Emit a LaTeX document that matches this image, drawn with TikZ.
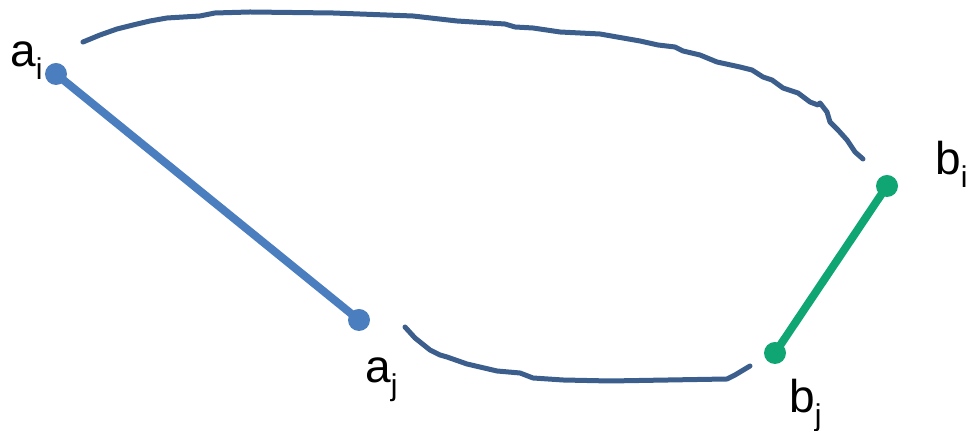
\documentclass[tikz,border=0pt]{standalone}
\usepackage{fontspec}
\setmainfont{Liberation Sans}
\usetikzlibrary{positioning}
\definecolor{segblue}{HTML}{4A7EBE}
\definecolor{seggreen}{HTML}{10A674}
\definecolor{curveblue}{HTML}{3B5E8C}
\newcommand{\sublab}[2]{#1\raisebox{-6.5pt}{\fontsize{15}{15}\selectfont #2}}

\begin{document}
\begin{tikzpicture}[
  x={(0.5pt,0)}, y={(0,-0.5pt)},
  dot/.style={circle, fill=#1, inner sep=0pt, minimum size=11pt},
  seg/.style={draw=#1, line width=4pt},
  hand/.style={draw=curveblue, line width=2.5pt, line cap=round, line join=round},
  lab/.style={anchor=base west, inner sep=0pt, font=\fontsize{23}{27}\selectfont},
]

% Canvas
\useasboundingbox (0,0) rectangle (971,431);

% End points
\node[dot=segblue] (ai) at (56,74) {};
\node[dot=segblue] (aj) at (359,320) {};
\node[dot=seggreen] (bi) at (887,186) {};
\node[dot=seggreen] (bj) at (775,353) {};

\draw[seg=segblue] (ai.center) -- (aj.center);
\draw[seg=seggreen] (bi.center) -- (bj.center);

% Labels
\node[lab] (lai) at (10,67) {\sublab{a}{i}};
\node[lab] (laj) at (365,383) {\sublab{a}{j}};
\node[lab] (lbi) at (935,175) {\sublab{b}{i}};
\node[lab] (lbj) at (789,413) {\sublab{b}{j}};

% Hand drawn links
\coordinate (top0) at (83,42);
\coordinate (top1) at (863,159);
\coordinate (bot0) at (405,327);
\coordinate (bot1) at (750,366);

\draw[hand] (top0) -- (100,35) -- (117,29) -- (133,25) -- (150,21) -- (167,18)
  -- (200,16) -- (215,13) -- (250,12) -- (333,13) -- (413,16) -- (457,21)
  -- (505,24) -- (515,27) -- (533,28) -- (560,32) -- (600,34) -- (640,41)
  -- (658,45) -- (675,47) -- (683,51) -- (700,55) -- (717,62) -- (740,67)
  -- (752,70) -- (763,77) -- (772,80) -- (783,88) -- (798,93) -- (810,102)
  -- (818,105) -- (820,103) -- (827,112) -- (830,122) -- (838,130)
  -- (847,140) -- (855,152) -- (top1);

\draw[hand] (bot0) -- (415,338) -- (430,350) -- (440,355) -- (447,357)
  -- (467,364) -- (497,371) -- (520,373) -- (533,378) -- (563,380)
  -- (610,381) -- (727,379) -- (735,375) -- (bot1);
\end{tikzpicture}
\end{document}
